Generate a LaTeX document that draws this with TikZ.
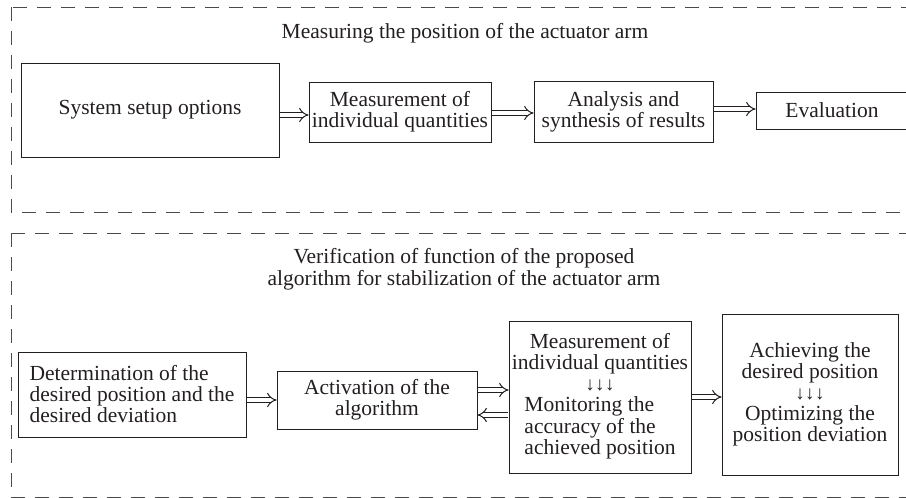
\documentclass[tikz,border=0pt]{standalone}
\usepackage{fontspec}
\setmainfont{Liberation Serif}
\usepackage{tikz}
\usetikzlibrary{arrows.meta}
\definecolor{armInk}{HTML}{231F20}
\definecolor{armFrame}{HTML}{4A4A4A}
\newcommand{\downs}{{\fontsize{19}{19}\selectfont ↓\kern0.3pt↓\kern0.3pt↓}}
\begin{document}
\begin{tikzpicture}[x=1pt,y=-1pt,
  box/.style={draw=armInk,line width=0.8pt,align=center,inner sep=2pt,
    text=armInk,font=\fontsize{21.5}{21}\selectfont},
  frame/.style={draw=armFrame,line width=0.8pt,dash pattern=on 14pt off 10pt},
  title/.style={align=center,text=armInk,font=\fontsize{21.5}{22}\selectfont},
  flow/.style={draw=armInk,double=white,double distance=4pt,line width=1pt,
    shorten <=0.4pt,-{Implies[length=9pt,width=15pt]}}]
\useasboundingbox (0,0) rectangle (906,498);
% dashed groups
\draw[frame] (11,7) rectangle (930,212);
\draw[frame] (11,233) rectangle (930,497);
\node[title] (measTitle) at (465,33) {Measuring the position of the actuator arm};
\node[title] (verTitle) at (464,269) {Verification of function of the proposed\\algorithm for stabilization of the actuator arm};
% upper row
\node[box,minimum width=258,minimum height=94] (setup) at (150,110) {System setup options};
\node[box,minimum width=182,minimum height=60] (meas) at (400,112) {Measurement of\\individual quantities};
\node[box,minimum width=179,minimum height=61] (synth) at (623.5,111.5) {Analysis and\\synthesis of results};
\node[box,minimum width=152,minimum height=37] (evalBox) at (832,110.5) {Evaluation};
\draw[flow] ([yshift=-5pt]setup.east) -- ([yshift=-5pt]setup.east -| meas.west);
\draw[flow] ([yshift=-1pt]meas.east) -- ([yshift=-1pt]meas.east -| synth.west);
\draw[flow] ([yshift=2.5pt]synth.east) -- ([yshift=2.5pt]synth.east -| evalBox.west);
% lower row
\node[box,align=left,minimum width=228,minimum height=85] (det) at (132,394.5) {Determination of the\\desired position and the\\desired deviation};
\node[box,minimum width=200,minimum height=58] (act) at (377,400) {Activation of the\\algorithm};
\node[box,minimum width=182,minimum height=152] (mon) at (600,397) {Measurement of\\individual quantities\\\downs\\\begin{tabular}[t]{@{}l@{}}Monitoring the\\accuracy of the\\achieved position\end{tabular}};
\node[box,minimum width=176,minimum height=161] (ach) at (810,394.5) {Achieving the\\desired position\\\downs\\Optimizing the\\position deviation};
\draw[flow] (det.east |- act.center) -- (act.west);
\draw[flow] ([yshift=10pt]act.east) -- ([yshift=10pt]act.east -| mon.west);
\draw[flow] ([yshift=-15pt]act.east -| mon.west) -- ([yshift=-15pt]act.east);
\draw[flow] (mon.east) -- (mon.east -| ach.west);
\end{tikzpicture}
\end{document}
